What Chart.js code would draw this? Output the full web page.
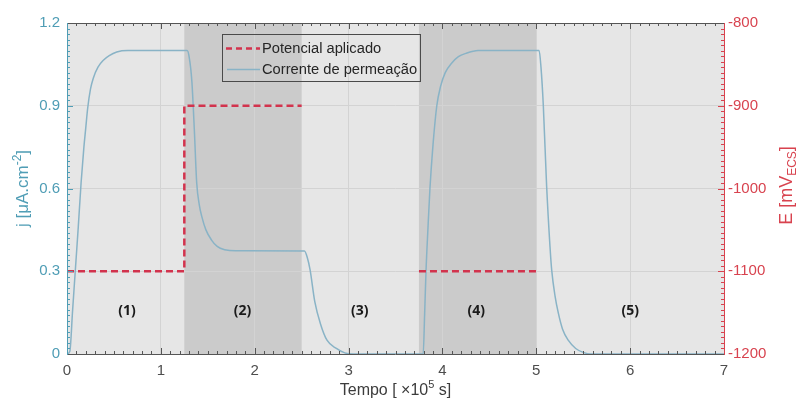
<!DOCTYPE html>
<html><head><meta charset="utf-8">
<script src="https://cdn.jsdelivr.net/npm/chart.js@4.4.1/dist/chart.umd.min.js"></script>
<style>html,body{margin:0;padding:0;background:#fff;overflow:hidden}</style>
</head><body>
<canvas id="c" width="798" height="401"></canvas>
<script>
// ---- data ----
const timeCurrent = [0, 0.03, 0.06, 0.09, 0.12, 0.15, 0.18, 0.2, 0.22, 0.25, 0.28, 0.33, 0.39, 0.45, 0.53, 0.65,
  1.28, 1.30, 1.33, 1.357, 1.382, 1.41, 1.435, 1.48, 1.54, 1.6, 1.68, 1.8,
  2.53, 2.56, 2.59, 2.64, 2.7, 2.77, 2.87, 2.96, 3.05,
  3.795, 3.81, 3.825, 3.845, 3.867, 3.9, 3.94, 3.98, 4.03, 4.1, 4.17, 4.25, 4.38,
  5.03, 5.05, 5.075, 5.11, 5.146, 5.164, 5.2, 5.235, 5.28, 5.34, 5.42, 5.5, 5.58, 7.0];
const currentValues = [0, 0.01, 0.16, 0.31, 0.46, 0.62, 0.75, 0.82, 0.89, 0.96, 1.0, 1.04, 1.066, 1.082, 1.095, 1.1,
  1.1, 1.08, 0.99, 0.81, 0.62, 0.54, 0.5, 0.45, 0.413, 0.39, 0.378, 0.374,
  0.373, 0.35, 0.305, 0.19, 0.11, 0.05, 0.02, 0.004, 0,
  0, 0.14, 0.3, 0.45, 0.6, 0.76, 0.9, 0.97, 1.02, 1.055, 1.078, 1.09, 1.1,
  1.1, 1.04, 0.9, 0.61, 0.39, 0.305, 0.21, 0.148, 0.09, 0.05, 0.02, 0.006, 0, 0];
const timePotential = [0, 1.25, 1.25, 2.5, 3.1, 3.75, 5.0];
const potentialValues = [-1100, -1100, -900, -900, null, -1100, -1100];
const xTickLabels = ['0','1','2','3','4','5','6','7'];
const jTickLabels = ['0','0.3','0.6','0.9','1.2'];
const eTickLabels = ['-1200','-1100','-1000','-900','-800'];
const shadeStart = [1.25, 3.75];
const shadeEnd = [2.5, 5.0];
const regionLabels = ['(1)','(2)','(3)','(4)','(5)'];
const regionLabelTimes = [0.64, 1.87, 3.12, 4.36, 6.0];
const regionLabelLevel = 0.156;
const seriesNames = ['Potencial aplicado', 'Corrente de permeação'];

// ---- styles ----
const BLUE_AX = '#4f9db5', RED_AX = '#d8434f', GRAY_AX = '#555555';
const CURVE = '#89b3c6', RED_LINE = '#d2334d';
const FONT = '"Liberation Sans", Arial, sans-serif';

const currentData = timeCurrent.map((t, i) => ({x: t, y: currentValues[i]}));
const potentialData = timePotential.map((t, i) => ({x: t, y: potentialValues[i]}));

const decor = {
  id: 'decor',
  beforeDraw(chart) {
    const {ctx, chartArea: a, scales: {x}} = chart;
    ctx.save();
    ctx.fillStyle = '#ffffff';
    ctx.fillRect(0, 0, chart.width, chart.height);
    ctx.fillStyle = '#e6e6e6';
    ctx.fillRect(a.left, a.top, a.right - a.left, a.bottom - a.top);
    ctx.fillStyle = '#cbcbcb';
    shadeStart.forEach((s, i) => {
      const x0 = x.getPixelForValue(s), x1 = x.getPixelForValue(shadeEnd[i]);
      ctx.fillRect(x0, a.top, x1 - x0, a.bottom - a.top);
    });
    ctx.restore();
  },
  beforeDatasetsDraw(chart) {
    const {ctx, scales: {x, y}} = chart;
    ctx.save();
    ctx.fillStyle = '#1a1a1a';
    ctx.font = 'bold 14px "Open Sans", Lato, sans-serif';
    ctx.textAlign = 'center';
    ctx.textBaseline = 'middle';
    regionLabels.forEach((l, i) => ctx.fillText(l, x.getPixelForValue(regionLabelTimes[i]), y.getPixelForValue(regionLabelLevel)));
    ctx.restore();
  },
  afterDraw(chart) {
    const {ctx, chartArea: a, scales: {x, y, y1}} = chart;
    ctx.save();
    // minor / major ticks (inward)
    ctx.lineWidth = 1;
    ctx.strokeStyle = GRAY_AX;
    for (let k = 0; k <= 70; k++) {
      const px = Math.round(x.getPixelForValue(k / 10)) + 0.5;
      const len = (k % 10 === 0) ? 6 : 3;
      ctx.beginPath(); ctx.moveTo(px, a.bottom); ctx.lineTo(px, a.bottom - len); ctx.stroke();
      ctx.beginPath(); ctx.moveTo(px, a.top); ctx.lineTo(px, a.top + len); ctx.stroke();
    }
    ctx.strokeStyle = BLUE_AX;
    for (let k = 0; k <= 60; k++) {
      const py = Math.round(y.getPixelForValue(k * 0.02)) + 0.5;
      const len = (k % 15 === 0) ? 6 : 3;
      ctx.beginPath(); ctx.moveTo(a.left, py); ctx.lineTo(a.left + len, py); ctx.stroke();
    }
    ctx.strokeStyle = RED_AX;
    for (let k = 0; k <= 60; k++) {
      const py = Math.round(y1.getPixelForValue(-1200 + k * 400 / 60)) + 0.5;
      const len = (k % 15 === 0) ? 6 : 3;
      ctx.beginPath(); ctx.moveTo(a.right, py); ctx.lineTo(a.right - len, py); ctx.stroke();
    }
    // box
    ctx.strokeStyle = GRAY_AX;
    ctx.beginPath(); ctx.moveTo(a.left, a.top + 0.5); ctx.lineTo(a.right, a.top + 0.5); ctx.stroke();
    ctx.beginPath(); ctx.moveTo(a.left, a.bottom + 0.5); ctx.lineTo(a.right, a.bottom + 0.5); ctx.stroke();
    ctx.strokeStyle = BLUE_AX;
    ctx.beginPath(); ctx.moveTo(a.left + 0.5, a.top); ctx.lineTo(a.left + 0.5, a.bottom + 1); ctx.stroke();
    ctx.strokeStyle = RED_AX;
    ctx.beginPath(); ctx.moveTo(a.right + 0.5, a.top); ctx.lineTo(a.right + 0.5, a.bottom + 1); ctx.stroke();

    // legend
    const lx = 222, ly = 34, lw = 198, lh = 47;
    ctx.strokeStyle = '#4a4a4a';
    ctx.lineWidth = 1;
    ctx.strokeRect(lx + 0.5, ly + 0.5, lw, lh);
    const rows = [ly + 14.5, ly + 35.5];
    ctx.strokeStyle = RED_LINE; ctx.lineWidth = 2.5; ctx.setLineDash([6, 4]);
    ctx.beginPath(); ctx.moveTo(lx + 4, rows[0]); ctx.lineTo(lx + 38, rows[0]); ctx.stroke();
    ctx.setLineDash([]);
    ctx.strokeStyle = CURVE; ctx.lineWidth = 1.5;
    ctx.beginPath(); ctx.moveTo(lx + 5, rows[1]); ctx.lineTo(lx + 38, rows[1]); ctx.stroke();
    ctx.fillStyle = '#262626';
    ctx.font = '14.7px ' + FONT;
    ctx.textAlign = 'left'; ctx.textBaseline = 'middle';
    ctx.fillText(seriesNames[0], lx + 40, rows[0]);
    ctx.fillText(seriesNames[1], lx + 40, rows[1]);

    // axis titles
    const drawParts = (parts, cx, cy, rot, color) => {
      ctx.save();
      ctx.translate(cx, cy);
      ctx.rotate(rot);
      ctx.fillStyle = color;
      ctx.textBaseline = 'alphabetic';
      ctx.textAlign = 'left';
      let total = 0;
      parts.forEach(p => { ctx.font = p.size + 'px ' + FONT; total += ctx.measureText(p.t).width; });
      let px = -total / 2;
      parts.forEach(p => {
        ctx.font = p.size + 'px ' + FONT;
        ctx.fillText(p.t, px, p.dy);
        px += ctx.measureText(p.t).width;
      });
      ctx.restore();
    };
    const midY = (a.top + a.bottom) / 2;
    drawParts([{t: 'j [\u03bcA.cm', size: 17, dy: 6}, {t: '-2', size: 12, dy: -1}, {t: ']', size: 17, dy: 6}], 22, midY, -Math.PI / 2, BLUE_AX);
    drawParts([{t: 'E [mV', size: 18, dy: 6}, {t: 'ECS', size: 12, dy: 10}, {t: ']', size: 18, dy: 6}], 786, midY - 3, -Math.PI / 2, RED_AX);
    drawParts([{t: 'Tempo [ \u00d710', size: 16, dy: 0}, {t: '5', size: 11, dy: -7}, {t: ' s]', size: 16, dy: 0}], (a.left + a.right) / 2, 395, 0, '#3c3c3c');
    ctx.restore();
  }
};

const gridColor = (ends) => (c) => (ends.includes(c.tick.value) ? 'rgba(0,0,0,0)' : '#d3d3d3');

new Chart(document.getElementById('c'), {
  type: 'line',
  data: {
    datasets: [
      {label: seriesNames[0], data: potentialData, yAxisID: 'y1', borderColor: RED_LINE, borderWidth: 2.5,
       borderDash: [7, 4], pointRadius: 0, spanGaps: false, tension: 0, fill: false},
      {label: seriesNames[1], data: currentData, yAxisID: 'y', borderColor: CURVE, borderWidth: 1.5,
       pointRadius: 0, cubicInterpolationMode: 'monotone', fill: false}
    ]
  },
  options: {
    responsive: false, animation: false, devicePixelRatio: 1,
    layout: {padding: {top: 23, left: 0, right: 0, bottom: 0}},
    plugins: {legend: {display: false}, tooltip: {enabled: false}},
    scales: {
      x: {type: 'linear', min: 0, max: 7,
        ticks: {stepSize: 1, color: '#4d4d4d', font: {family: FONT, size: 15}, padding: 8,
          callback: (v, i) => xTickLabels[i]},
        grid: {color: gridColor([0, 7]), drawTicks: false}, border: {display: false},
        afterFit: s => { s.height = 47; }},
      y: {position: 'left', min: 0, max: 1.2,
        ticks: {stepSize: 0.3, color: BLUE_AX, font: {family: FONT, size: 15}, padding: 7,
          callback: (v, i) => jTickLabels[i]},
        grid: {color: gridColor([0, 1.2]), drawTicks: false}, border: {display: false},
        afterFit: s => { s.width = 67; }},
      y1: {position: 'right', min: -1200, max: -800,
        ticks: {stepSize: 100, color: RED_AX, font: {family: FONT, size: 15}, padding: 4,
          callback: (v, i) => eTickLabels[i]},
        grid: {drawOnChartArea: false, drawTicks: false}, border: {display: false},
        afterFit: s => { s.width = 74; }}
    }
  },
  plugins: [decor]
});
</script>
</body></html>
